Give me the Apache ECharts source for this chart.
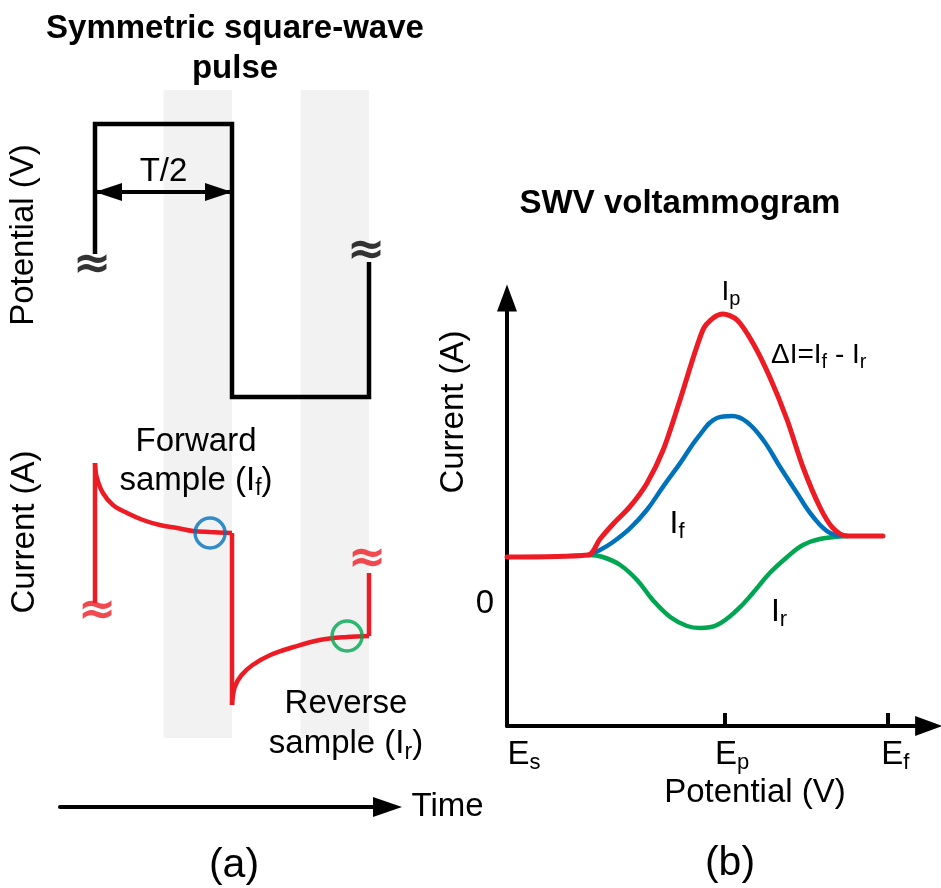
<!DOCTYPE html>
<html><head><meta charset="utf-8">
<script src="https://cdn.jsdelivr.net/npm/echarts@6/dist/echarts.min.js"></script>
<style>html,body{margin:0;padding:0;background:#fff}#c{width:941px;height:888px}</style>
</head><body><div id="c"></div>
<script>
// ---------- Panel (a): time measured in units of T/2 ----------
const bandRanges = [[0.5, 1], [1.5, 2]];
const potentialTime = [0, 0, 1, 1, 2, 2];
const potentialLevel = [12.1, 15.35, 15.35, 8.525, 8.525, 11.9];
const potentialBreakTime = [-0.022, 1.978];
const potentialBreakLevel = [11.8, 12.15];
const halfPeriodStart = 0, halfPeriodEnd = 1, halfPeriodLevel = 13.65;

const forwardTime = [0, 0.012, 0.058, 0.131, 0.234, 0.35, 0.474, 0.6, 0.715, 0.84, 1];
const forwardCurrent = [6.875, 6.53, 6.125, 5.825, 5.625, 5.45, 5.325, 5.25, 5.175, 5.15, 5.125];
const reverseTime = [1, 1.02, 1.07, 1.15, 1.28, 1.45, 1.64, 1.84, 2];
const reverseCurrent = [0.825, 1.275, 1.575, 1.825, 2.075, 2.275, 2.45, 2.525, 2.55];
const stepTime = [0, 1, 2];
const stepFrom = [3.375, 5.125, 2.55];
const stepTo = [6.875, 0.825, 4.125];
const currentBreakTime = [0.015, 1.985];
const currentBreakLevel = [3.15, 4.45];
const sampleTime = [0.84, 1.84];
const sampleCurrent = [5.125, 2.55];
const sampleColors = ['#0072BC', '#00A651'];

// ---------- Panel (b): SWV voltammogram ----------
const potentialTicks = [4, 7];
const potentialLabelValues = [0, 4, 7];
const potentialLabelSubs = ['s', 'p', 'f'];
const currentLabelValues = [0];

const deltaX = [0, 1.49, 1.71, 1.95, 2.26, 2.57, 2.87, 3.18, 3.6, 3.79, 3.97, 4.23, 4.52, 4.83, 5.15, 5.44, 5.75, 5.99, 6.25, 6.91];
const deltaY = [2.35, 2.45, 3.25, 4.0, 4.87, 6.03, 7.7, 10.2, 13.7, 14.3, 14.5, 14.2, 13.05, 11.35, 9.2, 6.85, 4.85, 3.8, 3.4, 3.4];
const forwardX = [1.49, 1.71, 1.95, 2.26, 2.57, 2.87, 3.18, 3.52, 3.86, 4.14, 4.41, 4.71, 5.02, 5.33, 5.63, 5.94, 6.25];
const forwardY = [2.45, 2.7, 3.1, 3.78, 4.7, 5.87, 7.03, 8.37, 9.3, 9.4, 9.1, 8.2, 6.85, 5.55, 4.35, 3.55, 3.4];
const reverseX = [1.49, 1.76, 2.08, 2.39, 2.68, 3.0, 3.31, 3.55, 3.86, 4.23, 4.52, 4.83, 5.15, 5.44, 5.75, 6.25];
const reverseY = [2.45, 2.35, 1.95, 1.2, 0.2, -0.65, -1.1, -1.2, -1.05, -0.3, 0.55, 1.55, 2.35, 2.95, 3.25, 3.4];

const FONT = "'Liberation Sans', Arial, Helvetica, sans-serif";
const RED = '#ED1C24', BLUE = '#0072BC', GREEN = '#00A651';
const zip = (a, b) => a.map((v, i) => [v, b[i]]);

const subRich = (size, subSize, lh) => ({
  n: { fontSize: size, fontFamily: FONT, lineHeight: lh, color: '#000' },
  s: { fontSize: subSize, fontFamily: FONT, lineHeight: subSize, verticalAlign: 'bottom', color: '#000' }
});

function text(x, y, str, size, extra) {
  extra = extra || {};
  return {
    type: 'text', x: x, y: y, rotation: extra.rotation || 0, silent: true, z: 50,
    style: Object.assign({
      text: str, fontSize: size, fontFamily: FONT, fontWeight: extra.bold ? 'bold' : 'normal',
      fill: '#000', align: extra.align || 'center', verticalAlign: 'middle',
      textAlign: extra.align || 'center', textVerticalAlign: 'middle'
    }, extra.style || {})
  };
}

const breakLabel = (color) => ({
  show: true, position: 'inside', formatter: '\u2248', fontSize: 46, fontWeight: 'bold',
  fontFamily: "'DejaVu Sans', sans-serif", color: color
});

const chart = echarts.init(document.getElementById('c'), null, { renderer: 'canvas' });

const option = {
  animation: false,
  backgroundColor: '#fff',
  textStyle: { fontFamily: FONT },
  grid: [
    { left: 60, top: 90, width: 327.5, height: 648 },
    { left: 507, top: 298, width: 421.6, height: 428 }
  ],
  xAxis: [
    {
      gridIndex: 0, type: 'value', min: -0.2555, max: 2.135, offset: 69,
      axisLine: { onZero: false, symbol: ['none', 'triangle'], symbolSize: [20, 29], lineStyle: { color: '#000', width: 4 } },
      axisTick: { show: false }, axisLabel: { show: false }, splitLine: { show: false },
      name: 'Time', nameLocation: 'end', nameGap: 24,
      nameTextStyle: { fontSize: 33, fontFamily: FONT, color: '#000', align: 'left', verticalAlign: 'middle' }
    },
    {
      gridIndex: 1, type: 'value', min: 0, max: 7.75,
      axisLine: { onZero: false, symbol: ['none', 'triangle'], symbolSize: [20, 27], lineStyle: { color: '#000', width: 4 } },
      axisTick: { show: true, inside: true, length: 13, customValues: potentialTicks, lineStyle: { color: '#000', width: 4 } },
      axisLabel: {
        customValues: potentialLabelValues, margin: 10, color: '#000',
        formatter: function (v) {
          const i = potentialLabelValues.indexOf(v);
          return (i === 0 ? '{E0|E}' : '{E|E}') + '{s|' + potentialLabelSubs[i] + '}';
        },
        rich: {
          E0: { fontSize: 33, fontFamily: FONT, lineHeight: 38, padding: [0, 0, 0, 34], color: '#000' },
          E: { fontSize: 33, fontFamily: FONT, lineHeight: 38, padding: [0, 0, 0, 15], color: '#000' },
          s: { fontSize: 22, fontFamily: FONT, lineHeight: 22, verticalAlign: 'bottom', color: '#000' }
        }
      },
      splitLine: { show: false }
    }
  ],
  yAxis: [
    { gridIndex: 0, type: 'value', min: 0, max: 16.2, show: false },
    {
      gridIndex: 1, type: 'value', min: -6.1, max: 15.3,
      axisLine: { show: true, onZero: false, symbol: ['none', 'triangle'], symbolSize: [20, 27], lineStyle: { color: '#000', width: 4 } },
      axisTick: { show: false },
      axisLabel: { customValues: currentLabelValues, fontSize: 33, fontFamily: FONT, color: '#000', margin: 13 },
      splitLine: { show: false }
    }
  ],
  series: [
    {
      name: 'Potential', type: 'line', xAxisIndex: 0, yAxisIndex: 0,
      data: zip(potentialTime, potentialLevel), showSymbol: false, silent: true,
      color: '#000',
      lineStyle: { color: '#000', width: 4.5, join: 'miter' },
      markArea: {
        silent: true, itemStyle: { color: '#f2f2f2' },
        data: bandRanges.map(r => [{ xAxis: r[0] }, { xAxis: r[1] }])
      },
      markLine: {
        silent: true, symbol: ['triangle', 'triangle'],
        symbolSize: [18, 27], symbolOffset: [[0, 13.5], [0, 13.5]],
        itemStyle: { color: '#000' },
        lineStyle: { color: '#000', width: 4, type: 'solid' },
        label: { show: true, position: 'middle', formatter: 'T/2', fontSize: 33, fontFamily: FONT, color: '#000', distance: 4 },
        data: [[{ coord: [halfPeriodStart, halfPeriodLevel] }, { coord: [halfPeriodEnd, halfPeriodLevel] }]]
      }
    },
    {
      name: 'Forward decay', type: 'line', xAxisIndex: 0, yAxisIndex: 0,
      data: zip(forwardTime, forwardCurrent), showSymbol: false, silent: true,
      smooth: 0.35, lineStyle: { color: RED, width: 4.5 }
    },
    {
      name: 'Reverse decay', type: 'line', xAxisIndex: 0, yAxisIndex: 0,
      data: zip(reverseTime, reverseCurrent), showSymbol: false, silent: true,
      smooth: 0.35, lineStyle: { color: RED, width: 4.5 }
    }
  ].concat(stepTime.map((t, i) => ({
      name: 'Step ' + i, type: 'line', xAxisIndex: 0, yAxisIndex: 0,
      data: [[t, stepFrom[i]], [t, stepTo[i]]], showSymbol: false, silent: true,
      lineStyle: { color: RED, width: 4.5 }
  }))).concat([
    {
      name: 'Potential breaks', type: 'scatter', xAxisIndex: 0, yAxisIndex: 0, silent: true, z: 6,
      data: zip(potentialBreakTime, potentialBreakLevel), symbolSize: 1,
      itemStyle: { color: 'rgba(0,0,0,0)' }, label: breakLabel('#000')
    },
    {
      name: 'Current breaks', type: 'scatter', xAxisIndex: 0, yAxisIndex: 0, silent: true, z: 6,
      data: zip(currentBreakTime, currentBreakLevel), symbolSize: 1,
      itemStyle: { color: 'rgba(0,0,0,0)' }, label: breakLabel(RED)
    },
    {
      name: 'Samples', type: 'scatter', xAxisIndex: 0, yAxisIndex: 0, silent: true, z: 5,
      symbol: 'circle', symbolSize: 30,
      data: sampleTime.map((t, i) => ({ value: [t, sampleCurrent[i]], itemStyle: { borderColor: sampleColors[i] } })),
      itemStyle: { color: 'rgba(0,0,0,0)', borderWidth: 3.5 }
    },
    {
      name: 'Ir', type: 'line', xAxisIndex: 1, yAxisIndex: 1, silent: true,
      data: zip(reverseX, reverseY), showSymbol: false, smooth: 0.4,
      lineStyle: { color: GREEN, width: 4.5, cap: 'round' }
    },
    {
      name: 'If', type: 'line', xAxisIndex: 1, yAxisIndex: 1, silent: true,
      data: zip(forwardX, forwardY), showSymbol: false, smooth: 0.4,
      lineStyle: { color: BLUE, width: 4.5, cap: 'round' }
    },
    {
      name: 'dI', type: 'line', xAxisIndex: 1, yAxisIndex: 1, silent: true,
      data: zip(deltaX, deltaY), showSymbol: false, smooth: 0.3,
      lineStyle: { color: RED, width: 5, cap: 'round' }
    }
  ]),
  graphic: [
    text(235, 48.6, 'Symmetric square-wave\npulse', 33, { bold: true, style: { lineHeight: 40 } }),
    text(680, 204, 'SWV voltammogram', 33, { bold: true }),
    text(24, 235, 'Potential (V)', 33, { rotation: Math.PI / 2 }),
    text(25, 532, 'Current (A)', 33, { rotation: Math.PI / 2 }),
    text(454, 412, 'Current (A)', 33, { rotation: Math.PI / 2 }),
    text(196, 461, '{n|Forward}\n{n|sample (I}{s|f}{n|)}', 33, { style: { rich: subRich(33, 23, 39) } }),
    text(346, 724, '{n|Reverse}\n{n|sample (I}{s|r}{n|)}', 33, { style: { rich: subRich(33, 23, 40) } }),
    text(755, 793, 'Potential (V)', 33),
    text(234, 866, '(a)', 41),
    text(730, 864, '(b)', 41),
    text(731, 292, '{n|I}{s|p}', 28, { style: { rich: subRich(28, 20, 34) } }),
    text(771, 355, '{n|\u0394I=I}{s|f}{n| - I}{s|r}', 28, { align: 'left', style: { rich: subRich(28, 20, 34) } }),
    text(677, 524, '{n|I}{s|f}', 32, { style: { rich: subRich(32, 22, 38) } }),
    text(779, 612, '{n|I}{s|r}', 32, { style: { rich: subRich(32, 22, 38) } })
  ]
};
chart.setOption(option);
</script>
</body></html>
